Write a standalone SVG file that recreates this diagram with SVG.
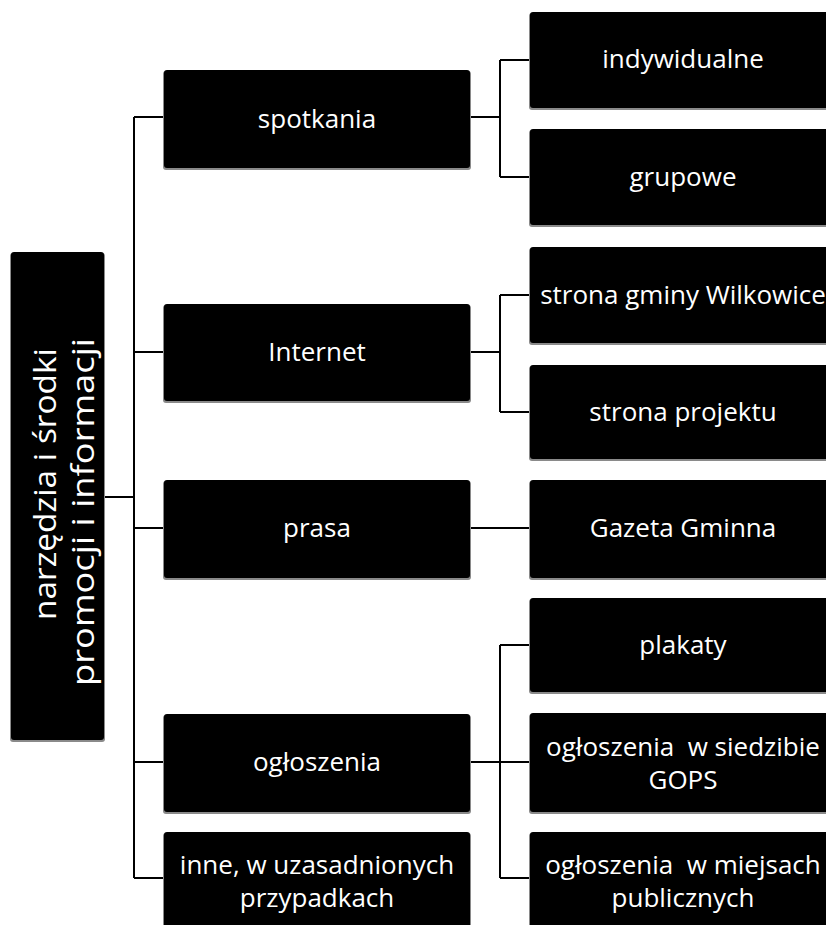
<svg xmlns="http://www.w3.org/2000/svg" width="826" height="925" viewBox="0 0 826 925">
<defs>
<style>
.box{fill:#000;}
.sh{fill:#8a8a8a;}
.t{font-family:"Open Sans","Noto Sans","Liberation Sans",sans-serif;font-size:26px;fill:#fff;text-anchor:middle;white-space:pre;}
.r{font-size:31px;}
.c{stroke:#000;stroke-width:2;fill:none;}
</style>
</defs>
<rect width="826" height="925" fill="#fff"/>
<g id="connectors">
<path class="c" d="M104 497H134M134 117V878M134 117H164M134 352H164M134 528H164M134 762H164M134 878H164"/>
<path class="c" d="M470 117H500M500 60V177M500 60H530M500 177H530"/>
<path class="c" d="M470 352H500M500 295V412M500 295H530M500 412H530"/>
<path class="c" d="M470 528H530"/>
<path class="c" d="M470 762H500M500 645V878M500 645H530M500 762H530M500 878H530"/>
</g>
<g id="root">
<rect class="sh" x="10" y="253" width="95" height="489" rx="3"/>
<rect class="box" x="11" y="252" width="93" height="488" rx="3"/>
<g transform="rotate(-90)">
<text class="t r" x="-484" y="56" textLength="272" lengthAdjust="spacingAndGlyphs">narzędzia i środki</text>
<text class="t r" x="-512" y="94" textLength="348" lengthAdjust="spacingAndGlyphs">promocji i informacji</text>
</g>
</g>
<g id="spotkania">
<rect class="sh" x="163" y="71" width="308" height="99" rx="3"/>
<rect class="box" x="164" y="70" width="306" height="98" rx="3"/>
<text class="t" x="317" y="128">spotkania</text>
</g>
<g id="internet">
<rect class="sh" x="163" y="305" width="308" height="98" rx="3"/>
<rect class="box" x="164" y="304" width="306" height="97" rx="3"/>
<text class="t" x="317" y="361">Internet</text>
</g>
<g id="prasa">
<rect class="sh" x="163" y="481" width="308" height="99" rx="3"/>
<rect class="box" x="164" y="480" width="306" height="98" rx="3"/>
<text class="t" x="317" y="537">prasa</text>
</g>
<g id="ogloszenia">
<rect class="sh" x="163" y="715" width="308" height="99" rx="3"/>
<rect class="box" x="164" y="714" width="306" height="98" rx="3"/>
<text class="t" x="317" y="771">ogłoszenia</text>
</g>
<g id="inne">
<rect class="sh" x="163" y="833" width="308" height="100" rx="3"/>
<rect class="box" x="164" y="832" width="306" height="100" rx="3"/>
<text class="t" x="317" y="874">inne, w uzasadnionych</text>
<text class="t" x="317" y="907">przypadkach</text>
</g>
<g id="indywidualne">
<rect class="sh" x="529" y="13" width="310" height="97" rx="3"/>
<rect class="box" x="530" y="12" width="306" height="96" rx="3"/>
<text class="t" x="683" y="68">indywidualne</text>
</g>
<g id="grupowe">
<rect class="sh" x="529" y="130" width="310" height="97" rx="3"/>
<rect class="box" x="530" y="129" width="306" height="96" rx="3"/>
<text class="t" x="683" y="186">grupowe</text>
</g>
<g id="strona-gminy">
<rect class="sh" x="529" y="248" width="310" height="97" rx="3"/>
<rect class="box" x="530" y="247" width="306" height="96" rx="3"/>
<text class="t" x="683" y="304">strona gminy Wilkowice</text>
</g>
<g id="strona-projektu">
<rect class="sh" x="529" y="366" width="310" height="95" rx="3"/>
<rect class="box" x="530" y="365" width="306" height="94" rx="3"/>
<text class="t" x="683" y="421">strona projektu</text>
</g>
<g id="gazeta">
<rect class="sh" x="529" y="481" width="310" height="99" rx="3"/>
<rect class="box" x="530" y="480" width="306" height="98" rx="3"/>
<text class="t" x="683" y="537">Gazeta Gminna</text>
</g>
<g id="plakaty">
<rect class="sh" x="529" y="599" width="310" height="95" rx="3"/>
<rect class="box" x="530" y="598" width="306" height="94" rx="3"/>
<text class="t" x="683" y="654">plakaty</text>
</g>
<g id="ogloszenia-gops">
<rect class="sh" x="529" y="714" width="310" height="100" rx="3"/>
<rect class="box" x="530" y="713" width="306" height="99" rx="3"/>
<text class="t" x="683" y="756">ogłoszenia  w siedzibie</text>
<text class="t" x="683" y="789">GOPS</text>
</g>
<g id="ogloszenia-miejsca">
<rect class="sh" x="529" y="833" width="310" height="100" rx="3"/>
<rect class="box" x="530" y="832" width="306" height="100" rx="3"/>
<text class="t" x="683" y="874">ogłoszenia  w miejsach</text>
<text class="t" x="683" y="907">publicznych</text>
</g>
</svg>
